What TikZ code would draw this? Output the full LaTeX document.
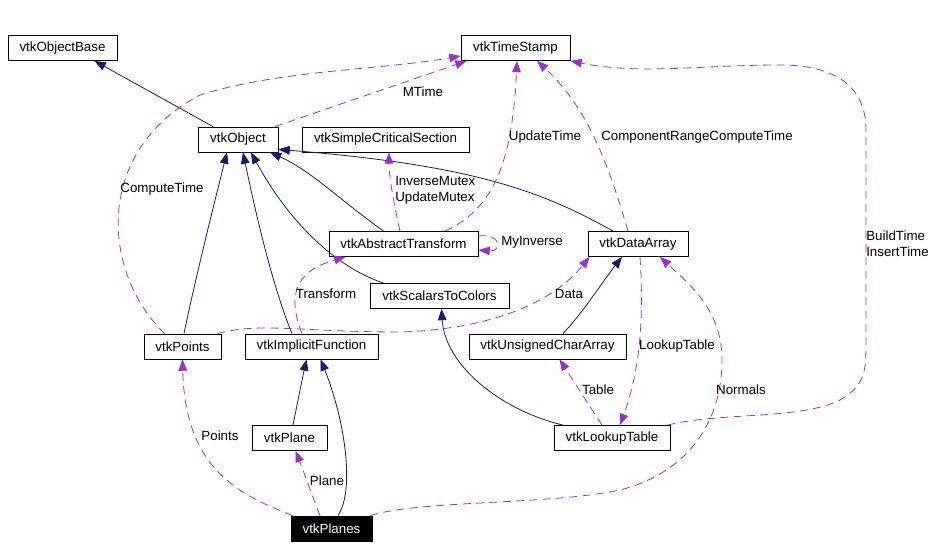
\documentclass[tikz,border=0pt]{standalone}
\usepackage{fontspec}
\setmainfont{Liberation Sans}
\usetikzlibrary{arrows.meta,calc}
\definecolor{inhcol}{RGB}{25,25,112}
\definecolor{usecol}{RGB}{153,50,204}
\begin{document}
\begin{tikzpicture}[x=0.75pt,y=-0.75pt,
  cls/.style={draw=black,line width=0.6pt,fill=white,inner sep=0pt,minimum height=25*0.75pt,font=\fontsize{10}{12}\selectfont},
  focus/.style={cls,fill=black,text=white},
  inh/.style={draw=inhcol,line width=0.6pt,-{Triangle[length=8.5pt,width=6.5pt]},inhcol},
  use/.style={draw=usecol,line width=0.6pt,dash pattern=on 6pt off 4pt,-{Triangle[length=8.5pt,width=6.5pt]},usecol},
  lbl/.style={inner sep=0pt,font=\fontsize{10}{12}\selectfont,text=black}]
\useasboundingbox (0,0) rectangle (938,548);
% classes
\node[cls,minimum width=109*0.75pt] (ob) at (62.5,48) {vtkObjectBase};
\node[cls,minimum width=109*0.75pt] (ts) at (515.5,48) {vtkTimeStamp};
\node[cls,minimum width=80*0.75pt] (obj) at (238,139.5) {vtkObject};
\node[cls,minimum width=167*0.75pt] (scs) at (385.5,139.5) {vtkSimpleCriticalSection};
\node[cls,minimum width=149*0.75pt] (at) at (403.5,244) {vtkAbstractTransform};
\node[cls,minimum width=100*0.75pt] (da) at (638,244) {vtkDataArray};
\node[cls,minimum width=139*0.75pt] (stc) at (439.5,296) {vtkScalarsToColors};
\node[cls,minimum width=77*0.75pt] (pts) at (182.5,346.5) {vtkPoints};
\node[cls,minimum width=133*0.75pt] (if) at (311.5,346.5) {vtkImplicitFunction};
\node[cls,minimum width=157*0.75pt] (uca) at (547.5,346.5) {vtkUnsignedCharArray};
\node[cls,minimum width=75*0.75pt] (pl) at (289.5,438) {vtkPlane};
\node[cls,minimum width=116*0.75pt] (lt) at (612,438) {vtkLookupTable};
\node[focus,minimum width=81*0.75pt] (planes) at (331.5,528.5) {vtkPlanes};
% inheritance
\draw[inh] ($(obj.north)+(-25,0)$) -- ($(ob.south)+(32,0)$);
\draw[inh] ($(pts.north)+(1.5,0)$) .. controls (195,280) and (215,200) .. ($(obj.south)+(-11,0)$);
\draw[inh] ($(if.north)+(-19.5,0)$) .. controls (272,285) and (255,210) .. ($(obj.south)+(5,0)$);
\draw[inh] ($(stc.north)+(-56,0)$) .. controls (330,265) and (285,215) .. ($(obj.south)+(13,0)$);
\draw[inh] ($(at.north)+(-20,0)$) .. controls (340,200) and (310,170) .. ($(obj.south)+(32,0)$);
\draw[inh] ($(da.north)+(-25,0)$) .. controls (540,190) and (470,165) .. ($(obj.south east)+(0,-3)$);
\draw[inh] ($(uca.north)+(15.5,0)$) .. controls (585,310) and (600,285) .. ($(da.south)+(-16,0)$);
\draw[inh] ($(lt.north)+(-49,0)$) .. controls (500,410) and (445,365) .. ($(stc.south)+(2,0)$);
\draw[inh] ($(pl.north)+(3.5,0)$) .. controls (298,400) and (302,380) .. ($(if.south)+(-5,0)$);
\draw[inh] ($(planes.north)+(6.5,0)$) .. controls (355,490) and (345,420) .. ($(if.south)+(9,0)$);
% usage
\draw[use] ($(pts.north)+(-18,0)$) .. controls (100,270) and (95,150) .. (200,95) .. controls (280,70) and (380,70) .. ($(ts.west)+(0,8)$);
\draw[use] ($(obj.north)+(37,0)$) -- ($(ts.south west)+(6,0)$);
\draw[use] ($(at.north)+(-3.5,0)$) .. controls (393,200) and (389,175) .. ($(scs.south)+(3.5,0)$);
\draw[use] ($(at.north)+(41.5,0)$) .. controls (490,210) and (512,170) .. ($(ts.south)+(1.5,0)$);
\draw[use] ($(at.east)+(0,-8)$) .. controls (502,233) and (502,252) .. ($(at.east)+(0,6)$);
\draw[use] ($(da.north)+(-10,0)$) .. controls (610,170) and (590,110) .. ($(ts.south)+(21.5,0)$);
\draw[use] ($(lt.north east)+(-3,0)$) .. controls (720,412) and (800,420) .. (840,400) .. controls (866,385) and (866,370) .. (866,340) -- (866,130) .. controls (866,90) and (840,65) .. (780,65) .. controls (700,65) and (640,75) .. (ts.south east);
\draw[use] ($(if.north)+(-9.5,0)$) .. controls (285,290) and (300,270) .. ($(at.south)+(-58,0)$);
\draw[use] ($(pts.north east)+(-4,0)$) .. controls (260,322) and (300,332) .. (400,332) .. controls (470,330) and (545,312) .. ($(da.south west)+(2,0)$);
\draw[use] ($(da.south)+(2,0)$) .. controls (644,320) and (640,370) .. ($(lt.north)+(8,0)$);
\draw[use] ($(lt.north)+(-10,0)$) -- ($(uca.south)+(12,0)$);
\draw[use] ($(planes.north east)+(-2,0)$) .. controls (420,500) and (550,505) .. (620,490) .. controls (690,472) and (722,420) .. (722,360) .. controls (722,310) and (690,285) .. ($(da.south)+(22,0)$);
\draw[use] ($(planes.north west)+(2,0)$) .. controls (240,495) and (185,470) .. (pts.south);
\draw[use] ($(planes.north)+(-11.5,0)$) .. controls (312,495) and (305,475) .. ($(pl.south)+(6,0)$);
% labels
\node[lbl] (lmtime) at (423,92) {MTime};
\node[lbl] (lcompute) at (162,189) {ComputeTime};
\node[lbl,anchor=west,align=left] (lmutex) at (395,190) {InverseMutex\\UpdateMutex};
\node[lbl] (lupdate) at (545,137) {UpdateTime};
\node[lbl] (lcrct) at (697,137) {ComponentRangeComputeTime};
\node[lbl] (linverse) at (532,242) {MyInverse};
\node[lbl,anchor=west,align=left] (lbuild) at (866,244) {BuildTime\\InsertTime};
\node[lbl] (ltransform) at (326,294) {Transform};
\node[lbl] (ldata) at (569,294) {Data};
\node[lbl] (llookup) at (677,346) {LookupTable};
\node[lbl] (ltable) at (598,390) {Table};
\node[lbl] (lnormals) at (741,390) {Normals};
\node[lbl] (lpoints) at (220,436) {Points};
\node[lbl] (lplane) at (327,481) {Plane};
\end{tikzpicture}
\end{document}
